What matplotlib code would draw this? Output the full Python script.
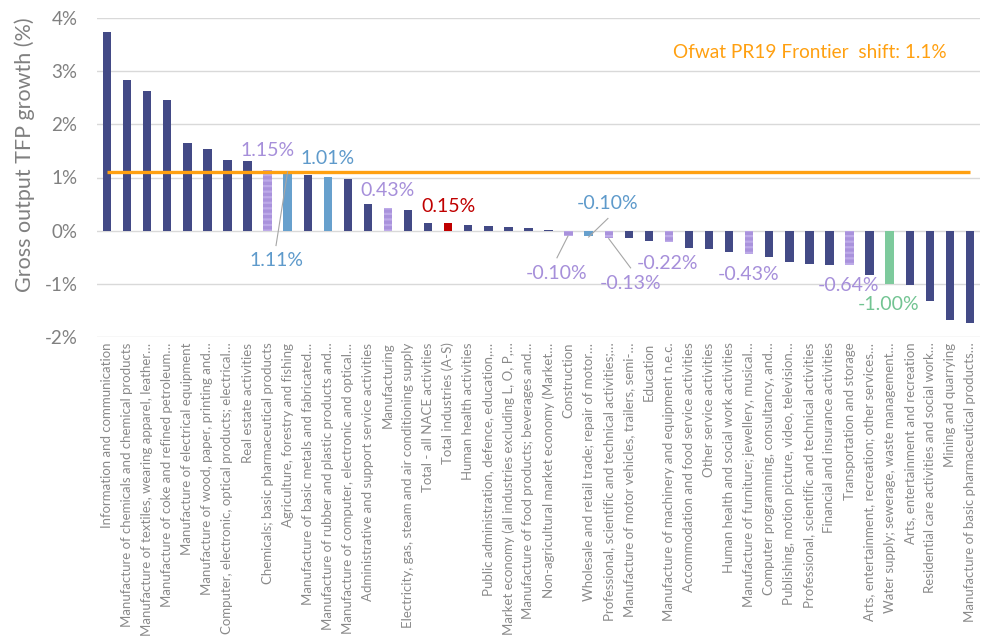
import matplotlib
matplotlib.use("Agg")
import matplotlib.pyplot as plt

plt.rcParams['font.family'] = ['Lato', 'DejaVu Sans']
plt.rcParams['hatch.linewidth'] = 1.6

categories = [
    "Information and communication",
    "Manufacture of chemicals and chemical products",
    "Manufacture of textiles, wearing apparel, leather…",
    "Manufacture of coke and refined petroleum…",
    "Manufacture of electrical equipment",
    "Manufacture of wood, paper, printing and…",
    "Computer, electronic, optical products; electrical…",
    "Real estate activities",
    "Chemicals; basic pharmaceutical products",
    "Agriculture, forestry and fishing",
    "Manufacture of basic metals and fabricated…",
    "Manufacture of rubber and plastic products and…",
    "Manufacture of computer, electronic and optical…",
    "Administrative and support service activities",
    "Manufacturing",
    "Electricity, gas, steam and air conditioning supply",
    "Total - all NACE activities",
    "Total industries (A-S)",
    "Human health activities",
    "Public administration, defence, education,…",
    "Market economy (all industries excluding L, O, P,…",
    "Manufacture of food products; beverages and…",
    "Non-agricultural market economy (Market…",
    "Construction",
    "Wholesale and retail trade; repair of motor…",
    "Professional, scientific and technical activities;…",
    "Manufacture of motor vehicles, trailers, semi-…",
    "Education",
    "Manufacture of machinery and equipment n.e.c.",
    "Accommodation and food service activities",
    "Other service activities",
    "Human health and social work activities",
    "Manufacture of furniture; jewellery, musical…",
    "Computer programming, consultancy, and…",
    "Publishing, motion picture, video, television…",
    "Professional, scientific and technical activities",
    "Financial and insurance activities",
    "Transportation and storage",
    "Arts, entertainment, recreation; other services…",
    "Water supply; sewerage, waste management…",
    "Arts, entertainment and recreation",
    "Residential care activities and social work…",
    "Mining and quarrying",
    "Manufacture of basic pharmaceutical products…",
]

tfp_growth = [
    3.74, 2.84, 2.62, 2.45, 1.64, 1.53, 1.33, 1.31, 1.15, 1.11,
    1.05, 1.01, 0.97, 0.50, 0.43, 0.39, 0.15, 0.15, 0.11, 0.09,
    0.075, 0.05, 0.02, -0.10, -0.10, -0.13, -0.14, -0.20, -0.22, -0.33,
    -0.35, -0.41, -0.43, -0.50, -0.59, -0.62, -0.64, -0.64, -0.83, -1.00,
    -1.03, -1.33, -1.68, -1.74,
]

# group of each bar: n = navy, p = purple (hatched), b = blue, r = red, g = green
groups = [
    'n', 'n', 'n', 'n', 'n', 'n', 'n', 'n', 'p', 'b',
    'n', 'b', 'n', 'n', 'p', 'n', 'n', 'r', 'n', 'n',
    'n', 'n', 'n', 'p', 'b', 'p', 'n', 'n', 'p', 'n',
    'n', 'n', 'p', 'n', 'n', 'n', 'n', 'p', 'n', 'g',
    'n', 'n', 'n', 'n',
]

frontier_shift = 1.1
frontier_label = "Ofwat PR19 Frontier  shift: 1.1%"
y_ticks = [-2, -1, 0, 1, 2, 3, 4]
y_tick_labels = ["-2%", "-1%", "0%", "1%", "2%", "3%", "4%"]
y_label = "Gross output TFP growth (%)"

# labelled bars: index -> (label x, label y, leader target or None)
labelled = {
    8: (8.0, 1.50, None),
    9: (8.42, -0.57, (9.0, 1.11)),
    11: (11.0, 1.35, None),
    14: (14.0, 0.75, None),
    17: (17.0, 0.46, None),
    23: (22.42, -0.80, (22.97, -0.10)),
    24: (24.96, 0.52, (24.0, -0.12)),
    25: (26.09, -0.99, (25.0, -0.15)),
    28: (27.93, -0.61, None),
    32: (31.95, -0.82, None),
    37: (36.96, -1.04, None),
    39: (38.96, -1.38, None),
}

face = {'n': '#434A86', 'p': '#A992DC', 'b': '#67A0CD', 'r': '#C00000', 'g': '#7DCA9C'}
text_col = {'p': '#A68FDA', 'b': '#5E9ACB', 'r': '#C00000', 'g': '#72C492', 'n': '#434A86'}

W, H = 983, 643
fig = plt.figure(figsize=(W / 100, H / 100), dpi=100)
ax = fig.add_axes([97 / W, 1 - 337 / H, (980 - 97) / W, (337 - 18) / H])

x = list(range(len(categories)))
for i, (v, g) in enumerate(zip(tfp_growth, groups)):
    if g == 'p':
        ax.bar(i, v, width=0.42, color=face['p'], edgecolor='#BDAAE8',
               linewidth=0, hatch='---', zorder=2)
    else:
        ax.bar(i, v, width=0.42, color=face[g], linewidth=0, zorder=2)

ax.plot([x[0], x[-1]], [frontier_shift, frontier_shift], color='#FFA010',
        linewidth=2.4, solid_capstyle='butt', zorder=4)
ax.text(35.03, 3.35, frontier_label, color='#FFA010', fontsize=13.7,
        ha='center', va='center')

for i, (lx, ly, target) in labelled.items():
    v = tfp_growth[i]
    c = text_col[groups[i]]
    ax.text(lx, ly, f"{v:.2f}%", color=c, fontsize=14, ha='center',
            va='center', zorder=5)
    if target is not None:
        tx, ty = target
        sy = ly + (0.29 if ly < ty else -0.29)
        ax.plot([lx, tx], [sy, ty], color='#A6A6A6', linewidth=0.8, zorder=5)

ax.set_xlim(-0.5, len(categories) - 0.5)
ax.set_ylim(-2, 4)
ax.set_yticks(y_ticks)
ax.set_yticklabels(y_tick_labels)
ax.yaxis.grid(True, color='#D9D9D9', linewidth=1.0, zorder=0)
ax.set_axisbelow(True)
for s in ax.spines.values():
    s.set_visible(False)
ax.tick_params(axis='y', length=0, pad=14, labelsize=13.5, labelcolor='#808080')
ax.set_xticks(x)
ax.set_xticklabels(categories, rotation=90, fontsize=9.5, color='#8A8A8A')
ax.tick_params(axis='x', length=0, pad=4)

fig.text(25 / W, 1 - 155 / H, y_label, rotation=90, ha='center', va='center',
         fontsize=15.5, color='#808080')

fig.savefig("out.png", dpi=100)
